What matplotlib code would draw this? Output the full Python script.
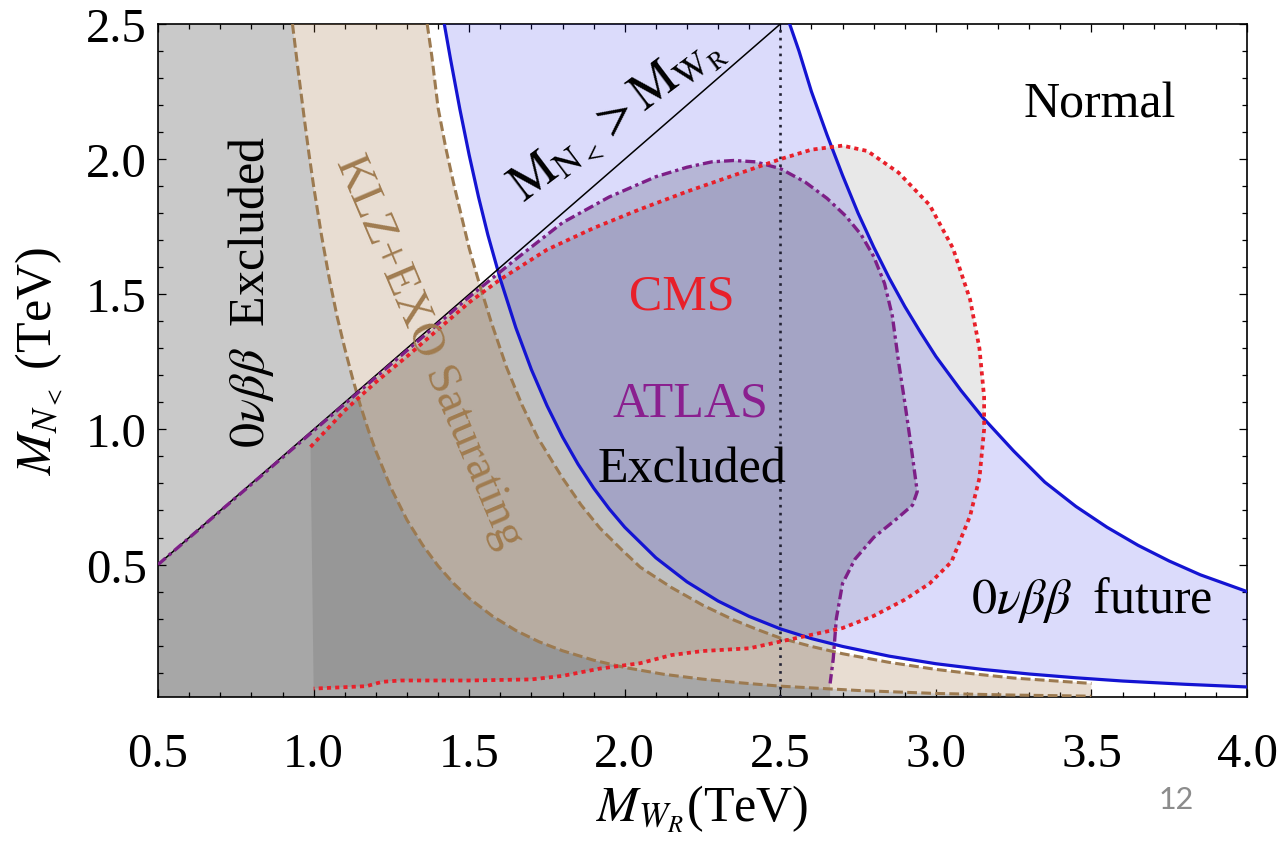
#%%
import numpy as np
import matplotlib.pyplot as plt
from matplotlib.ticker import MultipleLocator, FormatStrFormatter

plt.rcParams['font.family'] = ['Liberation Serif', 'DejaVu Serif']
plt.rcParams['mathtext.fontset'] = 'stix'

#%% data, all masses in TeV (x = M_WR, y = M_N<)
# KLZ+EXO saturating band: lower and upper dashed edges
klz_lo_x = [0.932, 0.95, 0.97, 0.985, 1.00, 1.025, 1.05, 1.075, 1.10, 1.125, 1.15, 1.175, 1.20, 1.25, 1.30, 1.35,
            1.40, 1.45, 1.50, 1.575, 1.65, 1.725, 1.80, 1.90, 2.00, 2.125, 2.25, 2.375, 2.50, 2.75, 3.00, 3.25, 3.50]
klz_lo_y = [2.50, 2.33, 2.15, 2.02, 1.90, 1.72, 1.56, 1.42, 1.30, 1.19, 1.09, 1.00, 0.92, 0.78, 0.665, 0.573,
            0.495, 0.43, 0.375, 0.309, 0.256, 0.214, 0.181, 0.146, 0.119, 0.094, 0.076, 0.062, 0.050, 0.034, 0.023,
            0.017, 0.013]
klz_hi_x = [1.365, 1.38, 1.40, 1.425, 1.45, 1.475, 1.50, 1.535, 1.57, 1.62, 1.67, 1.72, 1.80, 1.86, 1.92, 1.99,
            2.05, 2.15, 2.25, 2.35, 2.425, 2.50, 2.60, 2.70, 2.85, 3.00, 3.125, 3.25, 3.375, 3.50]
klz_hi_y = [2.50, 2.38, 2.19, 2.04, 1.91, 1.79, 1.67, 1.53, 1.40, 1.23, 1.09, 0.97, 0.82, 0.72, 0.635, 0.555,
            0.49, 0.415, 0.35, 0.295, 0.26, 0.228, 0.197, 0.17, 0.138, 0.112, 0.095, 0.080, 0.070, 0.060]

# future 0vbb reach band: solid blue edges
fut_lo_x = [1.42, 1.44, 1.47, 1.50, 1.53, 1.56, 1.60, 1.65, 1.70, 1.75, 1.80, 1.85, 1.90, 1.95, 2.00, 2.10,
            2.20, 2.30, 2.40, 2.50, 2.60, 2.70, 2.85, 3.00, 3.15, 3.30, 3.45, 3.60, 3.80, 4.00]
fut_lo_y = [2.50, 2.37, 2.185, 2.015, 1.86, 1.72, 1.556, 1.376, 1.221, 1.088, 0.972, 0.871, 0.783, 0.706, 0.638,
            0.525, 0.436, 0.365, 0.308, 0.262, 0.226, 0.197, 0.161, 0.133, 0.112, 0.095, 0.081, 0.069, 0.057, 0.047]
fut_hi_x = [2.53, 2.56, 2.60, 2.65, 2.70, 2.75, 2.80, 2.85, 2.90, 2.95, 3.00, 3.08, 3.15, 3.25, 3.35, 3.45,
            3.55, 3.65, 3.75, 3.85, 4.00]
fut_hi_y = [2.50, 2.40, 2.25, 2.09, 1.94, 1.80, 1.675, 1.56, 1.455, 1.36, 1.27, 1.145, 1.045, 0.92, 0.805,
            0.715, 0.638, 0.571, 0.513, 0.462, 0.40]

# ATLAS exclusion contour (purple dot-dashed)
atlas_x = [0.50, 1.00, 1.50, 1.65, 1.80, 1.95, 2.10, 2.20, 2.28, 2.35, 2.42, 2.50, 2.58, 2.65, 2.71, 2.76, 2.80,
           2.835, 2.86, 2.88, 2.90, 2.92, 2.94, 2.925, 2.875, 2.80, 2.74, 2.70, 2.68, 2.67, 2.66]
atlas_y = [0.50, 0.995, 1.49, 1.63, 1.765, 1.86, 1.935, 1.97, 1.99, 1.995, 1.99, 1.965, 1.915, 1.855, 1.79,
           1.72, 1.64, 1.54, 1.42, 1.25, 1.10, 0.94, 0.77, 0.72, 0.67, 0.60, 0.52, 0.43, 0.30, 0.15, 0.06]

# CMS exclusion contour (red dotted)
cms_x = [0.99, 1.10, 1.20, 1.30, 1.40, 1.50, 1.60, 1.75, 1.90, 2.05, 2.20, 2.35, 2.50, 2.60, 2.70, 2.78, 2.88, 2.98,
         3.055, 3.11, 3.14, 3.155, 3.155, 3.14, 3.11, 3.05, 2.98, 2.90, 2.80, 2.70, 2.60, 2.50, 2.40, 2.25, 2.15,
         2.05, 1.92, 1.80, 1.70, 1.50, 1.28, 1.22, 1.17, 1.00]
cms_y = [0.935, 1.07, 1.175, 1.27, 1.37, 1.47, 1.555, 1.665, 1.745, 1.815, 1.88, 1.94, 2.00, 2.035, 2.05, 2.03, 1.95,
         1.83, 1.67, 1.48, 1.30, 1.12, 1.00, 0.82, 0.68, 0.51, 0.43, 0.37, 0.31, 0.265, 0.24, 0.215, 0.19, 0.18,
         0.165, 0.135, 0.115, 0.088, 0.075, 0.071, 0.071, 0.066, 0.050, 0.041]

diag = [0.5, 2.5]       # M_N = M_WR
wr_mark = 2.5           # dotted reference M_WR
xlims = [0.5, 4.0]
ylims = [0.01, 2.5]
xmajor = [0.5, 1.0, 1.5, 2.0, 2.5, 3.0, 3.5, 4.0]
ymajor = [0.5, 1.0, 1.5, 2.0, 2.5]

#%% figure
fig = plt.figure(figsize=(12.84, 8.45), dpi=100)
ax = fig.add_axes([0.1231, 0.1740, 0.8481, 0.7964])

# 0vbb excluded: everything left of the lower KLZ edge
ax.fill(np.r_[0.5, 0.5, klz_lo_x, 3.5], np.r_[0.0, 2.5, klz_lo_y, 0.0],
        color='#c9c9c9', lw=0, zorder=1)

# collider exclusions as translucent shading
ax.fill(np.r_[atlas_x, atlas_x[-1], 0.5], np.r_[atlas_y, 0.0, 0.0],
        color='black', alpha=0.17, lw=0, zorder=2)
ax.fill(cms_x, cms_y, color='black', alpha=0.09, lw=0, zorder=2)

# saturating band and future band on top
ax.fill(np.r_[klz_lo_x, klz_hi_x[::-1]], np.r_[klz_lo_y, klz_hi_y[::-1]],
        color=(0.6, 0.4, 0.2), alpha=0.22, lw=0, zorder=3)
ax.fill(np.r_[fut_lo_x, fut_hi_x[::-1]], np.r_[fut_lo_y, fut_hi_y[::-1]],
        color=(0.0, 0.0, 0.9), alpha=0.14, lw=0, zorder=3)

# boundary lines
brown = '#9c7a50'
for xs, ys in [(klz_lo_x, klz_lo_y), (klz_hi_x, klz_hi_y)]:
    ax.plot(xs, ys, color=brown, lw=2.2, dashes=(3.2, 1.4), zorder=4)
for xs, ys in [(fut_lo_x, fut_lo_y), (fut_hi_x, fut_hi_y)]:
    ax.plot(xs, ys, color='#1414d2', lw=2.3, zorder=4)

ax.plot(diag, diag, color='black', lw=1.1, zorder=4)
ax.axvline(wr_mark, color='#222233', lw=1.9, dashes=(1, 2), zorder=4)

ax.plot(atlas_x, atlas_y, color='#7d1f87', lw=2.4, dashes=(3.0, 1.2, 1.0, 1.2), zorder=5)
ax.plot(cms_x, cms_y, color='#e8202a', lw=2.7, dashes=(1.1, 1.1), zorder=5)

#%% labels inside the plot
fs = 36
ax.text(0.80, 1.51, r'$0\nu\beta\beta\;$ Excluded', rotation=90, fontsize=fs,
        ha='center', va='center', zorder=6)
ax.text(1.371, 1.29, 'KLZ+EXO Saturating', rotation=-67, fontsize=34, color='#a07c50',
        ha='center', va='center', zorder=6)
ax.text(1.975, 2.156, r'$\mathrm{M}_{\mathrm{N}_<}>\mathrm{M}_{\mathrm{W}_\mathrm{R}}$', rotation=37,
        fontsize=37, ha='center', va='center', zorder=6)
ax.text(2.184, 1.494, 'CMS', fontsize=fs, color='#e8202a', ha='center', va='center', zorder=6)
ax.text(2.210, 1.098, 'ATLAS', fontsize=fs, color='#8a1f8f', ha='center', va='center', zorder=6)
ax.text(2.217, 0.854, 'Excluded', fontsize=fs, ha='center', va='center', zorder=6)
ax.text(3.528, 2.204, 'Normal', fontsize=fs, ha='center', va='center', zorder=6)
ax.text(3.502, 0.374, r'$0\nu\beta\beta\;$ future', fontsize=fs, ha='center', va='center', zorder=6)

#%% axes
ax.set_xlim(xlims)
ax.set_ylim(ylims)
ax.set_xticks(xmajor)
ax.set_yticks(ymajor)
ax.xaxis.set_minor_locator(MultipleLocator(0.1))
ax.yaxis.set_minor_locator(MultipleLocator(0.1))
ax.xaxis.set_major_formatter(FormatStrFormatter('%.1f'))
ax.yaxis.set_major_formatter(FormatStrFormatter('%.1f'))
ax.tick_params(which='both', direction='in', top=True, right=True, width=0.9)
ax.tick_params(which='major', length=6)
ax.tick_params(which='minor', length=3.5)
ax.tick_params(axis='x', labelsize=35, pad=25)
ax.tick_params(axis='y', labelsize=35, pad=8)
for s in ax.spines.values():
    s.set_linewidth(1.2)

ax.set_xlabel(r'$M_{W_R}$(TeV)', fontsize=36)
ax.set_ylabel(r'$M_{N_<}$ (TeV)', fontsize=36)
ax.xaxis.set_label_coords(0.5, -0.128)
ax.yaxis.set_label_coords(-0.085, 0.5)

fig.text(1176 / 1284, 1 - 800 / 845, '12', fontsize=22, color='#8c8c8c',
         family=['Lato', 'DejaVu Sans'], ha='center', va='center')

fig.savefig('out.png', dpi=100)
